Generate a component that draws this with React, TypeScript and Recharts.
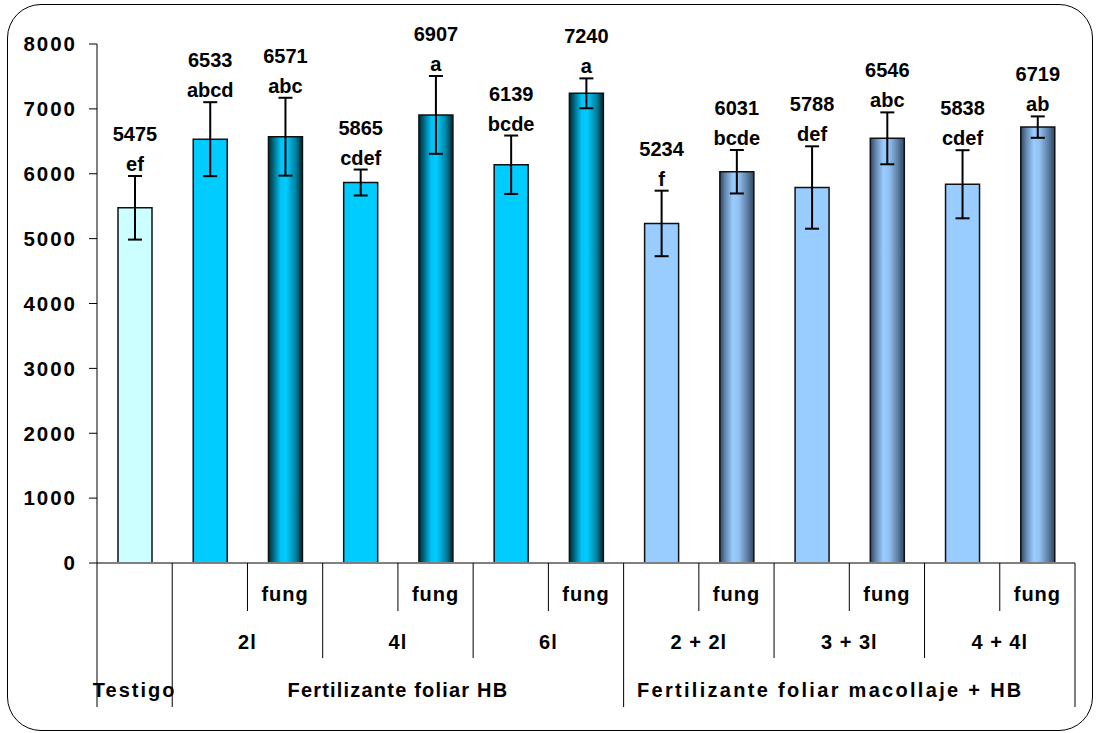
import { Bar, BarChart, Cell, ErrorBar, LabelList, XAxis, YAxis } from "recharts"

// rendimiento por tratamiento
const treatments = [
  "Testigo", "2l", "2l fung", "4l", "4l fung", "6l", "6l fung",
  "2+2l", "2+2l fung", "3+3l", "3+3l fung", "4+4l", "4+4l fung",
]
const yields = [5475, 6533, 6571, 5865, 6907, 6139, 7240, 5234, 6031, 5788, 6546, 5838, 6719]
const errors = [490, 570, 600, 200, 600, 450, 230, 505, 335, 635, 400, 525, 165]
const letters = ["ef", "abcd", "abc", "cdef", "a", "bcde", "a", "f", "bcde", "def", "abc", "cdef", "ab"]

// axis label levels
const fungLabels = ["", "", "fung", "", "fung", "", "fung", "", "fung", "", "fung", "", "fung"]
const doseLabels = ["", "2l", "2l", "4l", "4l", "6l", "6l", "2 + 2l", "2 + 2l", "3 + 3l", "3 + 3l", "4 + 4l", "4 + 4l"]
const groupLabels = [
  "Testigo",
  "Fertilizante foliar HB", "Fertilizante foliar HB", "Fertilizante foliar HB",
  "Fertilizante foliar HB", "Fertilizante foliar HB", "Fertilizante foliar HB",
  "Fertilizante foliar macollaje + HB", "Fertilizante foliar macollaje + HB",
  "Fertilizante foliar macollaje + HB", "Fertilizante foliar macollaje + HB",
  "Fertilizante foliar macollaje + HB", "Fertilizante foliar macollaje + HB",
]
const yTicks = [0, 1000, 2000, 3000, 4000, 5000, 6000, 7000, 8000]

const fills = [
  "#CCFFFF", "#00CCFF", "url(#hbFung)", "#00CCFF", "url(#hbFung)", "#00CCFF", "url(#hbFung)",
  "#99CCFF", "url(#macFung)", "#99CCFF", "url(#macFung)", "#99CCFF", "url(#macFung)",
]

const data = treatments.map((name, i) => ({ name, value: yields[i], err: errors[i] }))

const W = 1096
const H = 733
const MARGIN = { top: 44, right: 21, left: 17, bottom: 20 }
const Y_AXIS_W = 80
const X_AXIS_H = 150
const FONT = "'Liberation Sans', Arial, sans-serif"
const BAND = (W - MARGIN.left - Y_AXIS_W - MARGIN.right) / treatments.length

const textStyle = {
  fontFamily: FONT,
  fontWeight: 700,
  fontSize: 20,
  fill: "#000",
}

function CategoryTick(props: any) {
  const { x, y, index } = props
  const i = index as number
  const left = x - BAND / 2
  const out = []

  // separator on the left edge of the column, longer for higher levels
  let depth = 48
  if (i === 0 || groupLabels[i] !== groupLabels[i - 1]) depth = 144
  else if (doseLabels[i] !== doseLabels[i - 1]) depth = 95
  out.push(<line key="l" x1={left} x2={left} y1={y} y2={y + depth} stroke="#000" strokeWidth={1} />)
  if (i === treatments.length - 1) {
    out.push(<line key="r" x1={x + BAND / 2} x2={x + BAND / 2} y1={y} y2={y + 144} stroke="#000" strokeWidth={1} />)
  }

  if (fungLabels[i]) {
    out.push(
      <text key="f" x={x} y={y + 38} textAnchor="middle" {...textStyle} letterSpacing={1}>
        {fungLabels[i]}
      </text>
    )
  }
  if (doseLabels[i] && doseLabels[i] !== doseLabels[i - 1]) {
    let n = 1
    while (doseLabels[i + n] === doseLabels[i]) n++
    out.push(
      <text key="d" x={x + ((n - 1) * BAND) / 2} y={y + 86} textAnchor="middle" {...textStyle} letterSpacing={1}>
        {doseLabels[i]}
      </text>
    )
  }
  if (i === 0 || groupLabels[i] !== groupLabels[i - 1]) {
    let n = 1
    while (groupLabels[i + n] === groupLabels[i]) n++
    const label = groupLabels[i]
    const long = label.length > 25
    const shift = long ? -19 : 0
    out.push(
      <text
        key="g"
        x={x + ((n - 1) * BAND) / 2 + shift}
        y={y + 134}
        textAnchor="middle"
        {...textStyle}
        letterSpacing={long ? 2.3 : i === 0 ? 2 : 1.2}
      >
        {label}
      </text>
    )
  }
  return <g>{out}</g>
}

function TopLabel(props: any) {
  const { x, y, width, height, value, index } = props
  const perUnit = height / value
  const capY = y - errors[index] * perUnit
  const cx = x + width / 2
  return (
    <g>
      <text x={cx} y={capY - 35} textAnchor="middle" {...textStyle}>
        {value}
      </text>
      <text x={cx} y={capY - 5} textAnchor="middle" {...textStyle}>
        {letters[index]}
      </text>
    </g>
  )
}

export default function App() {
  return (
    <div style={{ position: "absolute", left: 0, top: 0, width: W, height: H, background: "#fff" }}>
      <div
        style={{
          position: "absolute",
          left: 7,
          top: 4,
          width: 1084,
          height: 725,
          border: "1.5px solid #000",
          borderRadius: 34,
        }}
      />
      <BarChart
        width={W}
        height={H}
        data={data}
        margin={MARGIN}
        barSize={34}
        style={{ position: "absolute", left: 0, top: 0 }}
      >
        <defs>
          <linearGradient id="hbFung" x1="0" y1="0" x2="1" y2="0">
            <stop offset="0%" stopColor="#002a33" />
            <stop offset="14%" stopColor="#006580" />
            <stop offset="36%" stopColor="#00c4f5" />
            <stop offset="52%" stopColor="#00ccff" />
            <stop offset="80%" stopColor="#00809f" />
            <stop offset="100%" stopColor="#00262e" />
          </linearGradient>
          <linearGradient id="macFung" x1="0" y1="0" x2="1" y2="0">
            <stop offset="0%" stopColor="#2f4763" />
            <stop offset="16%" stopColor="#6486ad" />
            <stop offset="38%" stopColor="#99ccff" />
            <stop offset="55%" stopColor="#92c2f2" />
            <stop offset="82%" stopColor="#5b7ba1" />
            <stop offset="100%" stopColor="#2f4763" />
          </linearGradient>
        </defs>
        <XAxis
          dataKey="name"
          height={X_AXIS_H}
          interval={0}
          tickLine={false}
          tickSize={0}
          tickMargin={0}
          axisLine={{ stroke: "#808080", strokeWidth: 2 }}
          tick={<CategoryTick />}
        />
        <YAxis
          width={Y_AXIS_W}
          domain={[0, 8000]}
          ticks={yTicks}
          interval={0}
          tickSize={8}
          tickMargin={12}
          axisLine={{ stroke: "#000", strokeWidth: 1 }}
          tickLine={{ stroke: "#000", strokeWidth: 1 }}
          tick={{ ...textStyle, fontSize: 20.5, letterSpacing: 2 }}
        />
        <Bar dataKey="value" stroke="#111" strokeWidth={1.5} isAnimationActive={false}>
          {data.map((d, i) => (
            <Cell key={d.name} fill={fills[i]} />
          ))}
          <ErrorBar dataKey="err" width={7} stroke="#000" strokeWidth={2} />
          <LabelList dataKey="value" content={<TopLabel />} />
        </Bar>
      </BarChart>
    </div>
  )
}
